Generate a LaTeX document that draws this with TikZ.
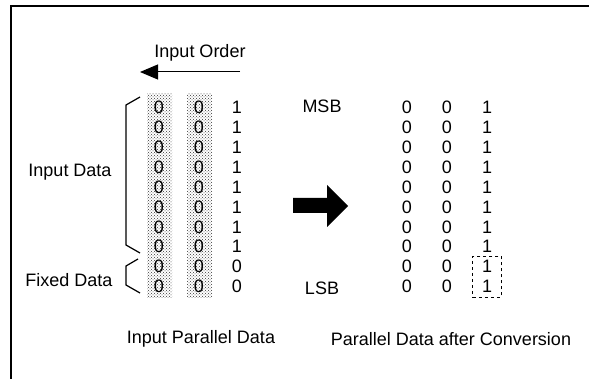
\documentclass[tikz,border=0pt]{standalone}
\usepackage{fontspec}
\setmainfont{Liberation Sans}
\usepackage{tikz}
\usetikzlibrary{patterns}
\usetikzlibrary{arrows.meta}
\usetikzlibrary{fit}
\tikzset{bit/.style={inner sep=0pt},
  dotcol/.style={pattern=crosshatch dots, pattern color=black!80},
  hook/.style={line width=1.2pt}}

\begin{document}
\begin{tikzpicture}[x=1pt,y=-1pt,font=\fontsize{18}{20}\selectfont]
\useasboundingbox (0,0) rectangle (589,379);
\draw[line width=2pt] (11,379) -- (11,6) -- (589,6);

\node (order) at (200,53) {Input Order};
\coordinate (ordS) at (240,72);
\coordinate (ordE) at (140,72);
\draw[-{Triangle[length=18pt,width=15pt]}, line width=1pt] (ordS) -- (ordE);

\fill[dotcol] (147,94) rectangle (172,298);
\fill[dotcol] (187,94) rectangle (212,298);

\foreach \i/\v in {1/1,2/1,3/1,4/1,5/1,6/1,7/1,8/1,9/0,10/0}{
  \pgfmathsetmacro\yy{107.5+19.9*(\i-1)}
  \node[bit] (a\i) at (159,\yy) {0};
  \node[bit] (b\i) at (199,\yy) {0};
  \node[bit] (c\i) at (237,\yy) {\v};
  \node[bit] (p\i) at (407,\yy) {0};
  \node[bit] (q\i) at (447,\yy) {0};
  \node[bit] (r\i) at (487,\yy) {1};
}

\node (msb) at (322,106) {MSB};
\node (lsb) at (322,288) {LSB};
\node[draw, dashed, line width=0.8pt, inner xsep=9pt, inner ysep=4pt, fit=(r9)(r10)] (fixbox) {};

\fill (293,198) -- (327,198) -- (327,185) -- (348,206) -- (327,227) -- (327,213) -- (293,213) -- cycle;

\draw[hook] (140,97) -- (126,105) -- (126,245) -- (140,253);
\draw[hook] (138,259) -- (126,266) -- (126,285) -- (140,293);
\node (indata) at (70,172) {Input Data};
\node (fixed) at (69,280) {Fixed Data};

\node (inpar) at (201,339) {Input Parallel Data};
\node (outpar) at (451,339) {Parallel Data after Conversion};
\end{tikzpicture}
\end{document}
